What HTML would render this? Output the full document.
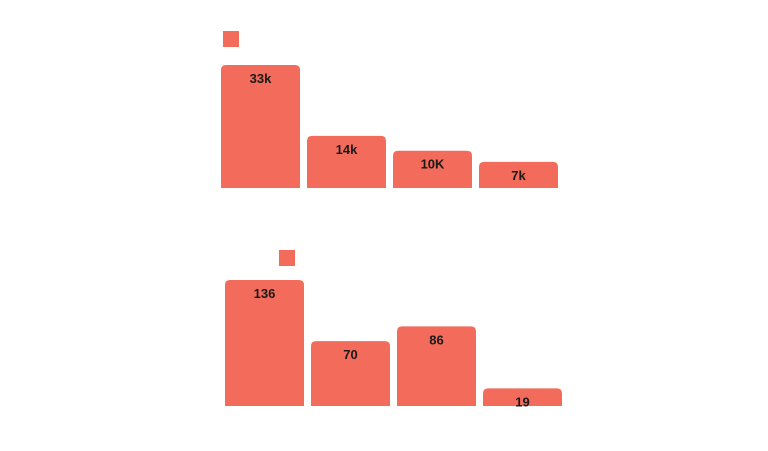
<!DOCTYPE html>
<html><head><meta charset="utf-8"><style>
html,body{margin:0;padding:0;background:#fff;width:768px;height:451px;overflow:hidden}
svg text{font-family:"Liberation Sans",sans-serif;font-weight:bold;font-size:13px;fill:#1a1a1a}
</style></head><body>
<svg width="768" height="451">
<rect x="223" y="31" width="16" height="16" fill="#f26b5b"/>
<rect x="279" y="250" width="16" height="16" fill="#f26b5b"/>
<g id="top"></g>
<g id="bottom"></g>
</svg>
<script>
const topValues = [33, 14, 10, 7];
const topLabels = ["33k", "14k", "10K", "7k"];
const bottomValues = [136, 70, 86, 19];
const bottomLabels = ["136", "70", "86", "19"];
const NS = "http://www.w3.org/2000/svg";
function draw(gid, vals, labels, x0, base, pxPerUnit, nameP) {
  const g = document.getElementById(gid);
  vals.forEach((v, i) => {
    const h = v * pxPerUnit, x = x0 + i * 86, w = 79, y = base - h, r = Math.min(5, h / 2);
    const p = document.createElementNS(NS, "path");
    p.setAttribute("d", `M${x},${base}V${y + r}Q${x},${y} ${x + r},${y}H${x + w - r}Q${x + w},${y} ${x + w},${y + r}V${base}Z`);
    p.setAttribute("fill", "#f26b5b");
    
    
    g.appendChild(p);
    const t = document.createElementNS(NS, "text");
    t.setAttribute("x", x + w / 2);
    t.setAttribute("y", y + 18);
    t.setAttribute("text-anchor", "middle");
    t.textContent = labels[i];
    
    
    g.appendChild(t);
  });
}
draw("top", topValues, topLabels, 221, 188, 123 / 33, "top");
draw("bottom", bottomValues, bottomLabels, 225, 406, 126 / 136, "bottom");
</script>
</body></html>
